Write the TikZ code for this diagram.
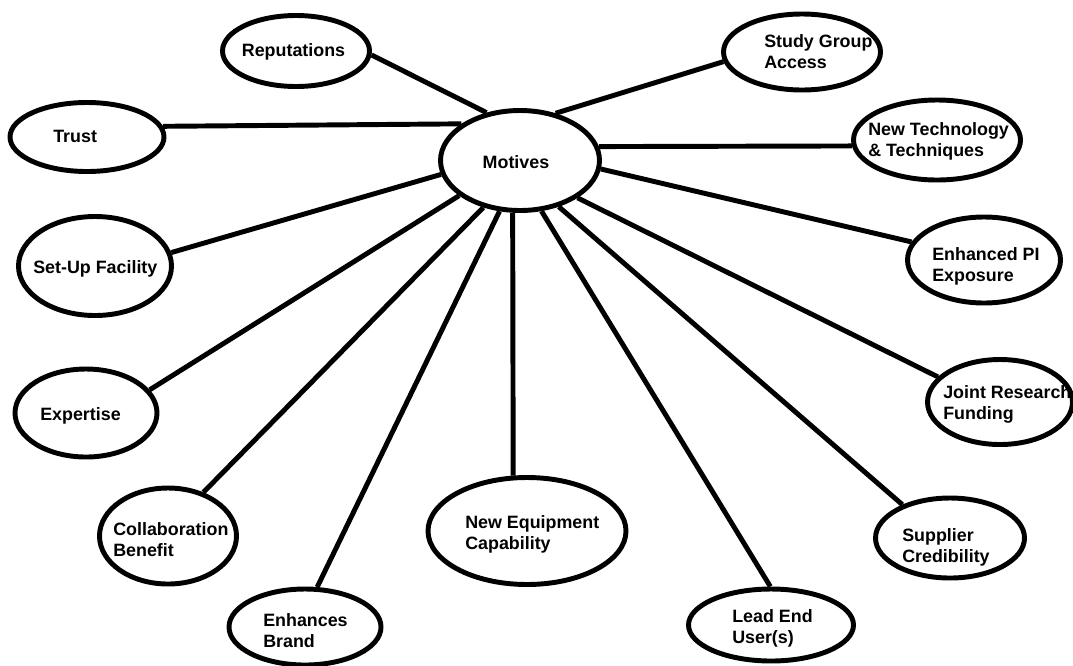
\documentclass[tikz,border=0pt]{standalone}
\usepackage{fontspec}
\setmainfont{Liberation Sans}
\usetikzlibrary{shapes.geometric}
\begin{document}
\begin{tikzpicture}[x=0.75pt,y=-0.75pt,
  oval/.style 2 args={ellipse, draw=black, fill=white, line width=3.7pt,
    inner sep=0pt, minimum width=#1*0.75pt, minimum height=#2*0.75pt},
  lbl/.style={inner sep=0pt, align=left, anchor=base west,
    font=\fontsize{13.4pt}{15.75pt}\selectfont\bfseries},
  link/.style={draw=black, line width=3.7pt}]
\useasboundingbox (0,0) rectangle (1073,665);
\fill[white] (0,0) rectangle (1073,665);

% hub
\node[oval={159}{100}] (m) at (520,160.5) {};

% surrounding motives
\node[oval={147}{71}]  (rep)   at (296,51)   {};
\node[oval={154}{69}]  (trust) at (87,137)   {};
\node[oval={153}{99}]  (setup) at (95,266)   {};
\node[oval={142}{88}]  (exp)   at (86,413)   {};
\node[oval={137}{96}]  (coll)  at (168,536)  {};
\node[oval={152}{76}]  (brand) at (305,627)  {};
\node[oval={198}{107}] (equip) at (527,531)  {};
\node[oval={165}{72}]  (lead)  at (771,625)  {};
\node[oval={149}{80}]  (supp)  at (950,538)  {};
\node[oval={145}{85}]  (joint) at (1000,402) {};
\node[oval={153}{86}]  (pi)    at (984,260)  {};
\node[oval={167}{80}]  (tech)  at (937,140)  {};
\node[oval={157}{76}]  (study) at (802,52)   {};

% spokes
\draw[link] (m.125.4) -- (rep.357);
\draw[link] (m.148.8) -- (trust.8.6);
\draw[link] (m.190.3) -- (setup.10.2);
\draw[link] (m.210.1) -- (exp.20.7);
\draw[link] (m.232.5) -- (coll.51.2);
\draw[link] (m.248.8) -- (brand.73.3);
\draw[link] (m.262)   -- (equip.104.8);
\draw[link] (m.293.1) -- (lead.91.4);
\draw[link] (m.310.1) -- (supp.145);
\draw[link] (m.327.5) -- (joint.158.4);
\draw[link] (m.354.6) -- (pi.166.8);
\draw[link] (m.10.5)  -- (tech.184.2);
\draw[link] (m.53.8)  -- (study.187.9);

% labels (base = baseline of the last line)
\node[lbl, anchor=base] (m-t) at (516,168) {Motives};
\node[lbl, anchor=base] (rep-t) at (293.5,56) {Reputations};
\node[lbl] (trust-t) at (53,142) {Trust};
\node[lbl] (setup-t) at (33,273) {Set-Up Facility};
\node[lbl] (exp-t)   at (40,420) {Expertise};
\node[lbl] (coll-t)  at (113,556) {Collaboration\\Benefit};
\node[lbl] (brand-t) at (263,647) {Enhances\\Brand};
\node[lbl] (equip-t) at (465,549) {New Equipment\\Capability};
\node[lbl] (lead-t)  at (732,643) {Lead End\\User(s)};
\node[lbl] (supp-t)  at (902,562) {Supplier\\Credibility};
\node[lbl] (joint-t) at (943,419) {Joint Research\\Funding};
\node[lbl] (pi-t)    at (932,281) {Enhanced PI\\Exposure};
\node[lbl] (tech-t)  at (868,156.5) {New Technology\\\& Techniques};
\node[lbl] (study-t) at (764,68) {Study Group\\Access};
\end{tikzpicture}
\end{document}
